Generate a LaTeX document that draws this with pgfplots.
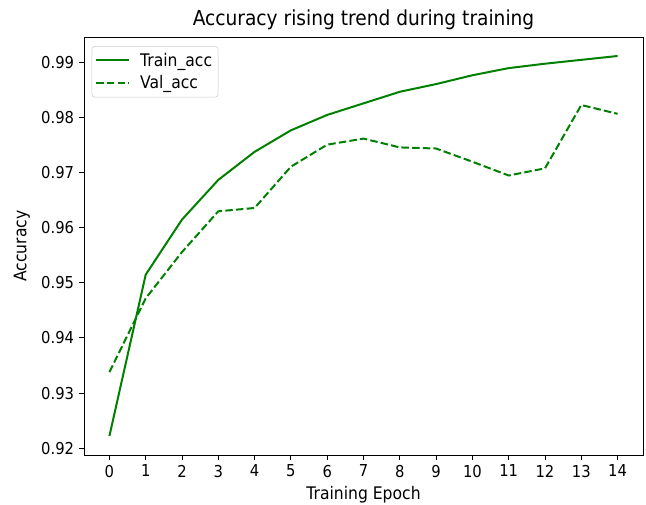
\documentclass[border=0pt]{standalone}
\usepackage{fontspec}
\setmainfont{DejaVu Sans}[FakeStretch=0.9]
\usepackage{pgfplots}
\pgfplotsset{compat=1.18}
\definecolor{mplgreen}{RGB}{0,128,0}

\begin{document}
\begin{tikzpicture}
\path[use as bounding box] (-63pt,-37.5pt) rectangle (421.5pt,341.25pt);
\begin{axis}[
    at={(0,0)}, anchor=south west,
    scale only axis,
    width=419.25pt, height=313.5pt,
    xmin=-0.7, xmax=14.7,
    ymin=0.91875, ymax=0.99465,
    xtick={0,1,...,14},
    ytick={0.92,0.93,0.94,0.95,0.96,0.97,0.98,0.99},
    yticklabel style={/pgf/number format/.cd, fixed, fixed zerofill, precision=2},
    /pgf/number format/assume math mode=true,
    tick align=outside,
    major tick length=3.9pt,
    every tick/.style={black, line width=0.7pt},
    axis line style={line width=0.7pt},
    tick label style={font=\fontsize{12.3}{14}\selectfont},
    label style={font=\fontsize{13}{15}\selectfont},
    xlabel={Training Epoch},
    ylabel={Accuracy},
    xlabel style={yshift=0pt},
    ylabel style={yshift=1.5pt},
    title={Accuracy rising trend during training},
    title style={font=\fontsize{15.5}{17}\selectfont, yshift=-4.5pt},
    xtick pos=bottom, ytick pos=left,
    legend cell align=left,
    legend style={at={(0.0138,0.978)}, anchor=north west, draw=black!20,
        rounded corners=2pt, font=\fontsize{13}{15}\selectfont,
        inner xsep=2.5pt, inner ysep=2.8pt, row sep=1.6pt, column sep=5.6pt},
    legend image code/.code={\draw[#1] (0pt,0pt) -- (24.5pt,0pt);},
]
\addplot[mplgreen, line width=1.5pt] coordinates {
    (0,0.9222) (1,0.9515) (2,0.9615) (3,0.9687) (4,0.9738)
    (5,0.9777) (6,0.9805) (7,0.9826) (8,0.9847) (9,0.9861)
    (10,0.9877) (11,0.9890) (12,0.9898) (13,0.9905) (14,0.9912)
};
\addlegendentry{Train\_acc}
\addplot[mplgreen, line width=1.5pt, dash pattern=on 5.6pt off 2.4pt] coordinates {
    (0,0.9338) (1,0.9472) (2,0.9556) (3,0.9630) (4,0.9636)
    (5,0.9711) (6,0.9751) (7,0.9762) (8,0.9746) (9,0.9744)
    (10,0.9720) (11,0.9695) (12,0.9708) (13,0.9823) (14,0.9807)
};
\addlegendentry{Val\_acc}
\end{axis}
\end{tikzpicture}
\end{document}
